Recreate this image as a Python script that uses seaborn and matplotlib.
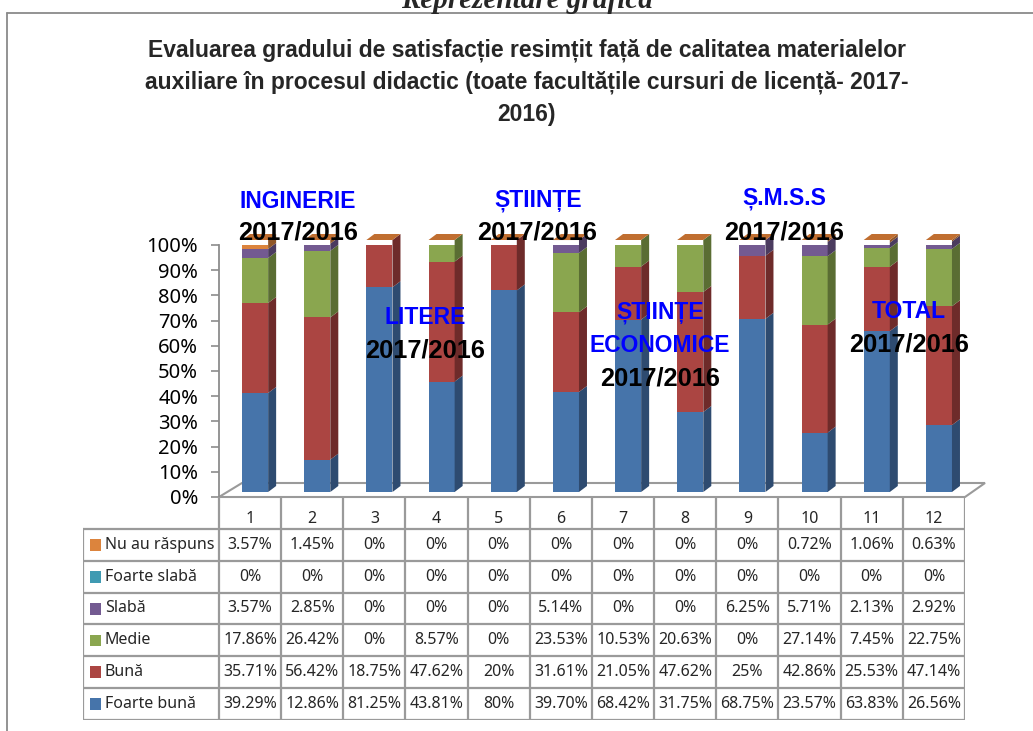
import numpy as np
import pandas as pd
import seaborn as sns
import matplotlib.pyplot as plt
import matplotlib.transforms as mtransforms
from matplotlib.patches import Polygon, Rectangle
from matplotlib.lines import Line2D

categories = [str(i) for i in range(1, 13)]
foarte_buna = [39.29, 12.86, 81.25, 43.81, 80, 39.70, 68.42, 31.75, 68.75, 23.57, 63.83, 26.56]
buna = [35.71, 56.42, 18.75, 47.62, 20, 31.61, 21.05, 47.62, 25, 42.86, 25.53, 47.14]
medie = [17.86, 26.42, 0, 8.57, 0, 23.53, 10.53, 20.63, 0, 27.14, 7.45, 22.75]
slaba = [3.57, 2.85, 0, 0, 0, 5.14, 0, 0, 6.25, 5.71, 2.13, 2.92]
foarte_slaba = [0, 0, 0, 0, 0, 0, 0, 0, 0, 0, 0, 0]
nu_au_raspuns = [3.57, 1.45, 0, 0, 0, 0, 0, 0, 0, 0.72, 1.06, 0.63]

# bottom -> top of the stack
series_names = ["Foarte bună", "Bună", "Medie", "Slabă", "Foarte slabă", "Nu au răspuns"]
series_vals = [foarte_buna, buna, medie, slaba, foarte_slaba, nu_au_raspuns]
front_cols = ["#4674AA", "#AB4542", "#8AA64F", "#735A91", "#3F9AB2", "#DC843D"]
side_cols = ["#2E4B70", "#6E2B2A", "#5A6D33", "#4B3B5F", "#296478", "#8F5628"]
top_col = "#C06E30"

ytick_vals = list(range(0, 101, 10))
ytick_labels = [f"{v}%" for v in ytick_vals]

title_lines = ["Evaluarea gradului de satisfacție resimțit față de calitatea materialelor",
               "auxiliare în procesul didactic (toate facultățile cursuri de licență- 2017-",
               "2016)"]


def fmt(v):
    return f"{int(v)}%" if float(v).is_integer() else f"{v:.2f}%"


sns.set_theme(style="white")
plt.rcParams['font.family'] = ['Noto Sans', 'DejaVu Sans']
BOLD = ['Liberation Sans', 'DejaVu Sans']

W, H = 1033, 731
fig = plt.figure(figsize=(W / 100, H / 100), dpi=100)


def fx(px):
    return px / W


def fy(py):
    return 1 - py / H


ax = fig.add_axes([fx(219), fy(497), (965 - 219) / W, 252 / H])

cum = np.zeros(len(categories))
cums = []
for vals in series_vals:
    cum = cum + np.array(vals)
    cums.append(cum.copy())
# draw tallest cumulative first so lower segments paint over it
for k in range(len(series_vals) - 1, -1, -1):
    d = pd.DataFrame({"cat": categories, "val": cums[k]})
    sns.barplot(data=d, x="cat", y="val", order=categories, color=front_cols[k],
                saturation=1, width=0.42, ax=ax, linewidth=0)

# 3d offset for the bars (a few pixels up/right of the front plane)
shift = ax.transData + mtransforms.ScaledTranslation(5 / 100, 5 / 100, fig.dpi_scale_trans)
for p in ax.patches:
    p.set_transform(shift)

ddx = 8 / 62.17
ddy = 6 / 2.52
hw = 0.21
for i in range(len(categories)):
    bottom = 0.0
    for k, vals in enumerate(series_vals):
        v = vals[i]
        if v > 0:
            t = bottom + v
            side = Polygon([(i + hw, bottom), (i + hw + ddx, bottom + ddy),
                            (i + hw + ddx, t + ddy), (i + hw, t)],
                           closed=True, facecolor=side_cols[k], edgecolor="none",
                           transform=shift, clip_on=False, zorder=2)
            ax.add_patch(side)
            bottom = t
    top = Polygon([(i - hw, bottom), (i + hw, bottom), (i + hw + ddx, bottom + ddy),
                   (i - hw + ddx, bottom + ddy)], closed=True, facecolor=top_col,
                  edgecolor="none", transform=shift, clip_on=False, zorder=2)
    ax.add_patch(top)

# floor
fdx = 23 / 62.17
fdy = 14 / 2.52
floor = Polygon([(-0.5, 0), (-0.5 + fdx, fdy), (11.5 + fdx * 0.87, fdy), (11.5, 0)],
                closed=True, facecolor="white", edgecolor="#9a9a9a", lw=1.5,
                clip_on=False, zorder=0.5)
ax.add_patch(floor)

ax.set_xlim(-0.5, 11.5)
ax.set_ylim(0, 100)
ax.set_xticks([])
ax.set_yticks(ytick_vals)
ax.set_yticklabels(ytick_labels)
ax.set_xlabel("")
ax.set_ylabel("")
for s in ["top", "right", "bottom"]:
    ax.spines[s].set_visible(False)
ax.spines["left"].set_color("#8c8c8c")
ax.spines["left"].set_linewidth(1.3)
ax.tick_params(axis="y", left=True, length=6, width=1.2, color="#8c8c8c",
               labelsize=14.5, pad=9, labelcolor="black")
ax.patch.set_alpha(0)

# data table under the chart
tax = fig.add_axes([fx(83), fy(720), (965 - 83) / W, 223 / H])
x0 = -0.5 - (219 - 83) / 62.17
tax.set_xlim(x0, 11.5)
tax.set_ylim(0, 7)
tax.axis("off")
lc = "#9a9a9a"
for y in range(0, 7):
    tax.plot([x0, 11.5], [y, y], color=lc, lw=1.6, solid_capstyle="butt")
tax.plot([x0, x0], [0, 6], color=lc, lw=1.6)
for k in range(13):
    tax.plot([k - 0.5, k - 0.5], [0, 7], color=lc, lw=1.6)
for i, c in enumerate(categories):
    tax.text(i, 7 - 22 / 31.86, c, ha="center", va="center", fontsize=11.5)

table_order = list(range(len(series_vals) - 1, -1, -1))
for r, k in enumerate(table_order):
    yc = 5.5 - r
    tax.add_patch(Rectangle((x0 + 7 / 62.17, yc - 0.19), 11.5 / 62.17, 0.37,
                            facecolor=front_cols[k], edgecolor="none"))
    tax.text(x0 + 22 / 62.17, yc, series_names[k], ha="left", va="center", fontsize=11.5)
    for i, v in enumerate(series_vals[k]):
        tax.text(i, yc, fmt(v), ha="center", va="center", fontsize=11.5)

# titles and overlay labels
fig.text(fx(527), fy(8), "Reprezentare grafică", ha="center", va="baseline",
         family="Liberation Serif", style="italic", weight="bold", fontsize=21)
for yy, line in zip([50, 82, 115], title_lines):
    fig.text(fx(527), fy(yy), line, ha="center", va="center", fontsize=16.5,
             weight="bold", family=BOLD)

blue = "#0000FF"
labels = [
    (298, 201, "INGINERIE", blue), (298, 233, "2017/2016", "black"),
    (425, 317, "LITERE", blue), (425, 350, "2017/2016", "black"),
    (538, 201, "ȘTIINȚE", blue), (537, 233, "2017/2016", "black"),
    (660, 312, "ȘTIINȚE", blue), (660, 346, "ECONOMICE", blue), (660, 379, "2017/2016", "black"),
    (784, 199, "Ș.M.S.S", blue), (784, 232, "2017/2016", "black"),
    (909, 311, "TOTAL", blue), (909, 344, "2017/2016", "black"),
]
for x, y, s, c in labels:
    fig.text(fx(x), fy(y), s, ha="center", va="center",
             fontsize=16.5 if c == blue else 18.3, weight="bold",
             family=BOLD, color=c, zorder=5)

# outer frame
fig.add_artist(Line2D([fx(7), 1], [fy(13), fy(13)], color="#8a8a8a", lw=1.3))
fig.add_artist(Line2D([fx(7), fx(7)], [fy(13), 0], color="#8a8a8a", lw=1.3))

fig.savefig("out.png", dpi=100)
